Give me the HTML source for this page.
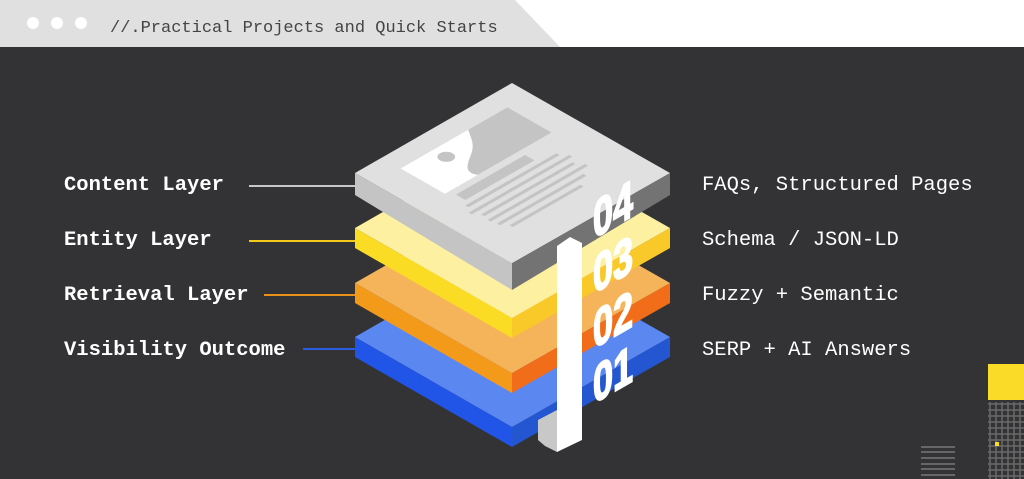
<!DOCTYPE html>
<html><head><meta charset="utf-8"><style>
html,body{margin:0;padding:0;width:1024px;height:479px;overflow:hidden;background:#333335}
</style></head><body>
<svg width="1024" height="479" viewBox="0 0 1024 479" xmlns="http://www.w3.org/2000/svg">
<rect width="1024" height="479" fill="#333335"/>
<rect width="1024" height="47" fill="#ffffff"/>
<polygon points="0,0 515,0 560,47 0,47" fill="#e0e0e0"/>
<circle cx="33" cy="23" r="6" fill="#fff"/><circle cx="57" cy="23" r="6" fill="#fff"/><circle cx="81" cy="23" r="6" fill="#fff"/>
<text x="110" y="32" font-family="Liberation Mono, monospace" font-size="17" fill="#444">//.Practical Projects and Quick Starts</text>

<g font-family="Liberation Mono, monospace" font-size="20.5" fill="#fff">
<text x="64" y="190" font-weight="bold">Content Layer</text>
<text x="64" y="245" font-weight="bold">Entity Layer</text>
<text x="64" y="300" font-weight="bold">Retrieval Layer</text>
<text x="64" y="355" font-weight="bold">Visibility Outcome</text>
<text x="702" y="190">FAQs, Structured Pages</text>
<text x="702" y="245">Schema / JSON-LD</text>
<text x="702" y="300">Fuzzy + Semantic</text>
<text x="702" y="355">SERP + AI Answers</text>
</g>
<line x1="249" y1="186" x2="356" y2="186" stroke="#c8c8c8" stroke-width="2"/>
<line x1="249" y1="241" x2="356" y2="241" stroke="#f5c91a" stroke-width="2"/>
<line x1="264" y1="295" x2="356" y2="295" stroke="#e8901a" stroke-width="2"/>
<line x1="303" y1="349" x2="356" y2="349" stroke="#2a5be0" stroke-width="2"/>

<polygon points="355,337 512,427 512,447 355,357" fill="#2155e8"/>
<polygon points="512,427 670,337 670,357 512,447" fill="#2356d0"/>
<polygon points="512,247 670,337 512,427 355,337" fill="#5b87f0"/>
<polygon points="355,283 512,373 512,393 355,303" fill="#f39a1b"/>
<polygon points="512,373 670,283 670,303 512,393" fill="#f26d1a"/>
<polygon points="512,193 670,283 512,373 355,283" fill="#f6b45a"/>
<polygon points="355,228 512,318 512,338 355,248" fill="#fbdc24"/>
<polygon points="512,318 670,228 670,248 512,338" fill="#f9c92a"/>
<polygon points="512,138 670,228 512,318 355,228" fill="#fdf0a0"/>
<polygon points="355,173 512,263 512,290 355,195" fill="#c4c4c4"/>
<polygon points="512,263 670,173 670,195 512,290" fill="#737373"/>
<polygon points="512,83 670,173 512,263 355,173" fill="#e0e0e0"/>
<g transform="matrix(1.58,0.9,-1.57,0.9,512,83)" fill="#c4c4c4">
<rect x="12" y="15" width="28" height="68" fill="#fff"/>
<path d="M12,15 L40,15 L40,62 C34,66 30,58 26,52 C22,46 18,44 12,40 Z"/>
<ellipse cx="20" cy="62" rx="4" ry="4"/>
<rect x="44" y="36" width="6" height="44"/>
<rect x="53" y="25" width="2" height="58"/>
<rect x="58" y="22" width="2" height="64"/>
<rect x="63" y="25" width="2" height="58"/>
<rect x="68" y="22" width="2" height="62"/>
<rect x="73" y="28" width="2" height="55"/>
<rect x="78" y="35" width="2" height="45"/>
</g>
<polygon points="538,420 557,410 557,452 545,446 538,440" fill="#c8c8c8"/>
<polygon points="557,246 570,237 582,243 582,440 557,452" fill="#ffffff"/>
<g font-family="Liberation Sans Narrow, Liberation Sans, sans-serif" font-weight="bold" font-size="44" fill="#fff" stroke="#fff" stroke-width="1.6">
<text transform="translate(593,239) skewY(-30) scale(0.82,1.2)">04</text>
<text transform="translate(593,294) skewY(-30) scale(0.82,1.2)">03</text>
<text transform="translate(593,349) skewY(-30) scale(0.82,1.2)">02</text>
<text transform="translate(593,404) skewY(-30) scale(0.82,1.2)">01</text>
</g>
<rect x="988" y="364" width="36" height="36" fill="#fadc28"/>
<g stroke="#6a6a6a" stroke-width="1.5">
<path d="M990,402V479M996,402V479M1002,402V479M1008,402V479M1014,402V479M1020,402V479"/>
<path d="M988,404H1024M988,410H1024M988,416H1024M988,422H1024M988,428H1024M988,434H1024M988,440H1024M988,446H1024M988,452H1024M988,458H1024M988,464H1024M988,470H1024M988,476H1024"/>
</g>
<rect x="995" y="442" width="4" height="4" fill="#fadc28"/>
<g stroke="#777" stroke-width="1.5">
<path d="M921,447H955M921,452H955M921,458H955M921,464H955M921,469H955M921,475H955"/>
</g>
</svg>
</body></html>
